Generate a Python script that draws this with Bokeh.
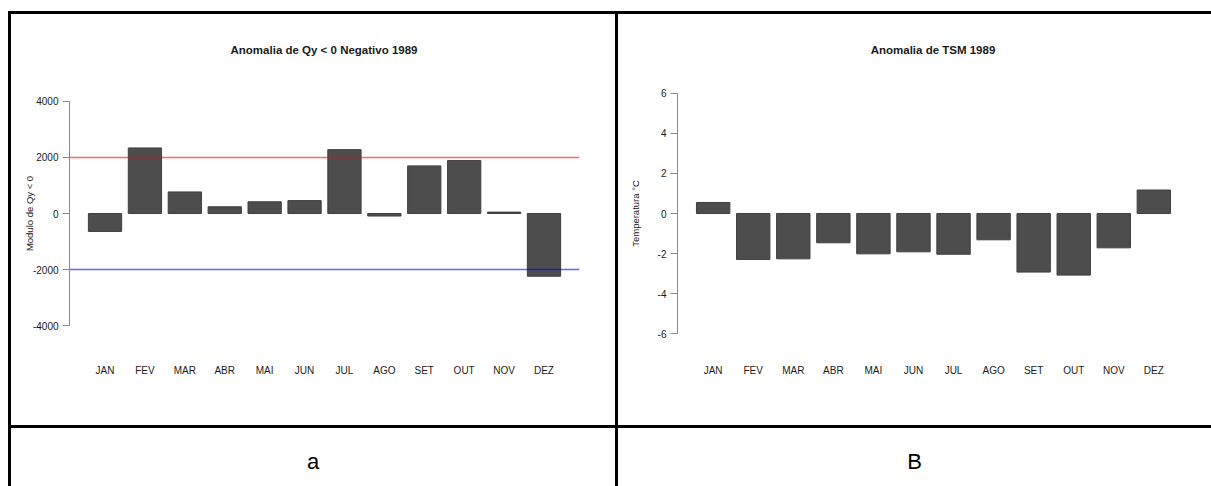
from bokeh.plotting import figure
from bokeh.models import Range1d, FixedTicker, Div, Spacer
from bokeh.layouts import row, column
from bokeh.embed import file_html
from bokeh.resources import INLINE

# Monthly anomalies, 1989
months = ["JAN", "FEV", "MAR", "ABR", "MAI", "JUN", "JUL", "AGO", "SET", "OUT", "NOV", "DEZ"]
qy_anomaly = [-640, 2340, 770, 240, 420, 460, 2280, -90, 1700, 1890, 50, -2240]
qy_ticks = [-4000, -2000, 0, 2000, 4000]
qy_limits = [2000, -2000]
qy_limit_colors = ["red", "blue"]
tsm_anomaly = [0.55, -2.29, -2.26, -1.46, -2.01, -1.91, -2.03, -1.31, -2.92, -3.07, -1.71, 1.17]
tsm_ticks = [-6, -4, -2, 0, 2, 4, 6]
panel_labels = ["a", "B"]

FONT = "Liberation Sans"
TEXT = "#1a1a1a"
BAR = "#4D4D4D"
RULE = 3          # table rule thickness
CHART_H = 411     # height of the chart row of the table
TITLE_H = 68      # title strip above each chart
CAPTION_H = 58    # height of the caption row
LEFT_W = 604
RIGHT_W = 593
PAD = 0.89        # space left and right of the outer bars, in bar slots


def title_div(text, w, shift):
    html = (f'<div style="width:{w}px;height:{TITLE_H}px;box-sizing:border-box;'
            f'padding-left:{shift}px;text-align:center;line-height:72px;'
            f'font-family:\'{FONT}\',sans-serif;font-weight:bold;font-size:11.5px;'
            f'color:{TEXT};white-space:nowrap;">{text}</div>')
    return Div(text=html, width=w, height=TITLE_H, margin=0)


def bar_panel(width, border_left, border_right, values, ticks, ylim,
              ylabel, ylabel_standoff):
    pos = list(range(len(months)))
    p = figure(width=width, height=CHART_H - TITLE_H,
               x_range=Range1d(-PAD, len(months) - 1 + PAD),
               y_range=Range1d(-ylim, ylim),
               output_backend="svg", toolbar_location=None,
               min_border_left=border_left, min_border_right=border_right,
               min_border_top=10, min_border_bottom=91)
    p.outline_line_color = None
    p.grid.visible = False
    p.margin = 0

    p.vbar(x=pos, top=values, bottom=0, width=1 / 1.2,
           fill_color=BAR, line_color="#3f3f3f", line_width=1)

    # month names under the bars, no axis line
    xa = p.xaxis[0]
    xa.ticker = FixedTicker(ticks=pos)
    xa.major_label_overrides = {i: m for i, m in zip(pos, months)}
    xa.axis_line_color = None
    xa.major_tick_line_color = None
    xa.minor_tick_line_color = None
    xa.major_tick_out = 0
    xa.major_tick_in = 0
    xa.major_label_standoff = 30
    xa.major_label_text_font = FONT
    xa.major_label_text_font_size = "10px"
    xa.major_label_text_color = TEXT

    ya = p.yaxis[0]
    ya.ticker = FixedTicker(ticks=ticks)
    ya.major_label_overrides = {t: str(t) for t in ticks}
    ya.bounds = (ticks[0], ticks[-1])
    ya.axis_line_color = "#8a8a8a"
    ya.major_tick_line_color = "#8a8a8a"
    ya.minor_tick_line_color = None
    ya.major_tick_out = 7
    ya.major_tick_in = 0
    ya.major_label_standoff = 4
    ya.major_label_text_font = FONT
    ya.major_label_text_font_size = "10px"
    ya.major_label_text_color = TEXT
    ya.axis_label = ylabel
    ya.axis_label_text_font = FONT
    ya.axis_label_text_font_size = "9.5px"
    ya.axis_label_text_font_style = "normal"
    ya.axis_label_text_color = TEXT
    ya.axis_label_standoff = ylabel_standoff
    return p


left = bar_panel(LEFT_W, 58, 36, qy_anomaly, qy_ticks, 4320, "Modulo de Qy < 0", -5)
# reference levels across the whole plotting area
n = len(qy_limits)
left.segment(x0=[left.x_range.start] * n, x1=[left.x_range.end] * n,
             y0=qy_limits, y1=qy_limits, line_color=qy_limit_colors,
             line_width=1.3, line_alpha=0.6)

right = bar_panel(RIGHT_W, 59, 22, tsm_anomaly, tsm_ticks, 6.03, "Temperatura °C", 14)


def hrule(w):
    return Div(text="", width=w, height=RULE, margin=0,
               styles={"background-color": "black"})


def vrule(h):
    return Div(text="", width=RULE, height=h, margin=0,
               styles={"background-color": "black"})


def caption(txt, w):
    html = (f'<div style="width:{w}px;height:{CAPTION_H - 6}px;padding-top:6px;'
            f'line-height:{CAPTION_H - 2}px;text-align:center;'
            f'font-family:\'{FONT}\',sans-serif;font-size:22px;color:black;">{txt}</div>')
    return Div(text=html, width=w, height=CAPTION_H, margin=0)


full_h = 2 * RULE + CHART_H + CAPTION_H
top_gap = 11

left_col = column(Spacer(width=LEFT_W, height=top_gap, margin=0), hrule(LEFT_W),
                  title_div("Anomalia de Qy &lt; 0 Negativo 1989", LEFT_W, 22), left,
                  hrule(LEFT_W), caption(panel_labels[0], LEFT_W), spacing=0, margin=0)
right_col = column(Spacer(width=RIGHT_W, height=top_gap, margin=0), hrule(RIGHT_W),
                   title_div("Anomalia de TSM 1989", RIGHT_W, 37), right,
                   hrule(RIGHT_W), caption(panel_labels[1], RIGHT_W), spacing=0, margin=0)

page = row(
    Spacer(width=8, height=top_gap + full_h, margin=0),
    column(Spacer(width=RULE, height=top_gap, margin=0), vrule(full_h), spacing=0, margin=0),
    left_col,
    column(Spacer(width=RULE, height=top_gap, margin=0), vrule(full_h), spacing=0, margin=0),
    right_col,
    spacing=0, margin=0,
)
open("out.html", "w").write(file_html(page, INLINE))
